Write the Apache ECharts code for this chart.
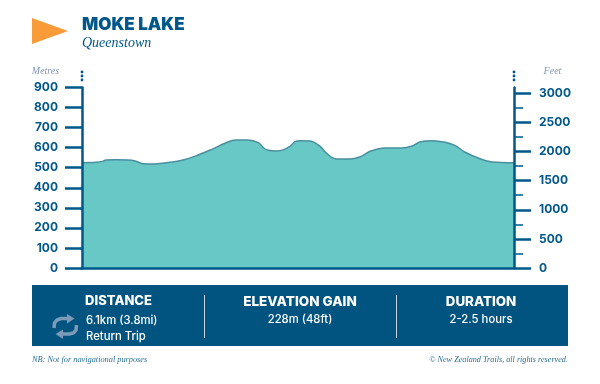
<!DOCTYPE html>
<html>
<head>
<meta charset="utf-8">
<style>html,body{margin:0;padding:0;background:#fff}#c{width:600px;height:384px}</style>
<script src="https://cdn.jsdelivr.net/npm/echarts@6/dist/echarts.min.js"></script>
</head>
<body>
<div id="c"></div>
<script>
var title = 'MOKE LAKE';
var subtitle = 'Queenstown';
var distanceKm = [0,.20,.30,.34,.47,.65,.75,.86,1.03,1.24,1.41,1.60,1.84,2.02,2.17,2.34,2.49,2.57,2.63,2.74,2.84,2.94,3.01,3.08,3.22,3.36,3.43,3.52,3.61,3.78,3.93,4.08,4.28,4.52,4.66,4.77,4.94,5.13,5.27,5.41,5.62,5.79,6.10];
var elevationM = [525,527,533,539,540,539,534,520,519,527,537,558,593,622,638,638,625,597,587,584,589,608,630,635,633,608,580,553,543,543,555,583,598,598,608,628,635,627,610,577,545,529,525];
var feetMajor = [0,500,1000,1500,2000,2500,3000];
var feetMinor = [250,750,1250,1750,2250,2750];
var navy = '#00578A';
var sans = 'Inter, "Noto Sans", sans-serif';
var serif = '"Liberation Serif", serif';
var iconColor = '#7C9BB8';

function txt(x,y,s,font,fill,align){
  return {type:'text',x:x,y:y,silent:true,style:{text:s,font:font,fill:fill,textAlign:align||'left',textVerticalAlign:'middle'}};
}
function dots(x){
  return [72,76,80].map(function(y){return {type:'circle',shape:{cx:x,cy:y,r:1.4},style:{fill:navy},silent:true};});
}
var G = [
  {type:'polygon',shape:{points:[[32,18],[68,31],[32,44]]},style:{fill:'#F99B38'}},
  txt(82,25,title,'900 17px '+sans,navy),
  txt(82,43,subtitle,'italic 14px '+serif,navy),
  txt(45.5,71,'Metres','italic 10px '+serif,'#8298B8','center'),
  txt(552.5,71,'Feet','italic 10px '+serif,'#8298B8','center'),
  {type:'rect',shape:{x:32,y:285,width:536,height:61},style:{fill:'#00547F'}},
  {type:'rect',shape:{x:204,y:295,width:1,height:43},style:{fill:'#C9D6DF'}},
  {type:'rect',shape:{x:396,y:295,width:1,height:43},style:{fill:'#C9D6DF'}},
  txt(118.5,301.5,'DISTANCE','800 13px '+sans,'#fff','center'),
  txt(86,320.5,'6.1km (3.8mi)','500 11.3px '+sans,'#fff'),
  txt(86,337,'Return Trip','500 11.3px '+sans,'#fff'),
  txt(300,301.5,'ELEVATION GAIN','800 13.5px '+sans,'#fff','center'),
  txt(300,319.5,'228m (48ft)','500 11.3px '+sans,'#fff','center'),
  txt(481,301.5,'DURATION','800 13.3px '+sans,'#fff','center'),
  txt(481,319.5,'2-2.5 hours','500 11.3px '+sans,'#fff','center'),
  txt(32,360,'NB: Not for navigational purposes','italic 8.3px '+serif,'#2B6F96'),
  txt(568,360,'\u00A9 New Zealand Trails, all rights reserved.','italic 8.2px '+serif,'#2B6F96','right'),
  {type:'polyline',shape:{points:[[54,328],[54.5,323],[57,320],[61,318.5],[69,318.5]]},style:{stroke:iconColor,lineWidth:3.5,fill:null}},
  {type:'polygon',shape:{points:[[67,314],[74.5,318.5],[67,323.5]]},style:{fill:iconColor}},
  {type:'polyline',shape:{points:[[76.5,325],[76,330],[73.5,333],[69.5,334],[61,334]]},style:{stroke:iconColor,lineWidth:3.5,fill:null}},
  {type:'polygon',shape:{points:[[63,329.5],[55.5,334],[63,339]]},style:{fill:iconColor}}
].concat(dots(82),dots(514));

var chart = echarts.init(document.getElementById('c'),null,{renderer:'canvas'});
chart.setOption({
  animation:false,
  grid:{left:82,right:86,top:87.5,height:180.5,containLabel:false},
  graphic:G,
  xAxis:{type:'value',min:0,max:6.1,axisLine:{show:true,onZero:false,lineStyle:{color:navy,width:2.5}},axisTick:{show:false},axisLabel:{show:false},splitLine:{show:false},z:5},
  yAxis:[
    {type:'value',position:'left',min:0,max:900,interval:100,z:5,
     axisLine:{show:true,lineStyle:{color:navy,width:2.5}},
     axisTick:{show:true,length:17,lineStyle:{color:navy,width:2.5}},
     axisLabel:{margin:24,color:navy,fontFamily:'Inter',fontWeight:700,fontSize:12},
     splitLine:{show:false}},
    {type:'value',position:'right',min:0,max:3101,z:5,
     axisLine:{show:true,lineStyle:{color:navy,width:2.5}},
     axisTick:{show:true,length:17,customValues:feetMajor,lineStyle:{color:navy,width:2.5}},
     axisLabel:{margin:25,color:navy,fontFamily:'Inter',fontWeight:700,fontSize:12,customValues:feetMajor,formatter:function(v){return String(v);}},
     splitLine:{show:false}},
    {type:'value',position:'right',min:0,max:3101,z:5,
     axisLine:{show:false},
     axisTick:{show:true,length:9,customValues:feetMinor,lineStyle:{color:navy,width:1.5}},
     axisLabel:{show:false},
     splitLine:{show:false}}
  ],
  series:[{
    type:'line',yAxisIndex:0,smooth:0.35,showSymbol:false,silent:true,
    data:distanceKm.map(function(d,i){return [d,elevationM[i]];}),
    lineStyle:{color:'#4A8F9E',width:1.5},
    areaStyle:{color:'#68C8C6',opacity:1}
  }]
});
</script>
</body>
</html>
